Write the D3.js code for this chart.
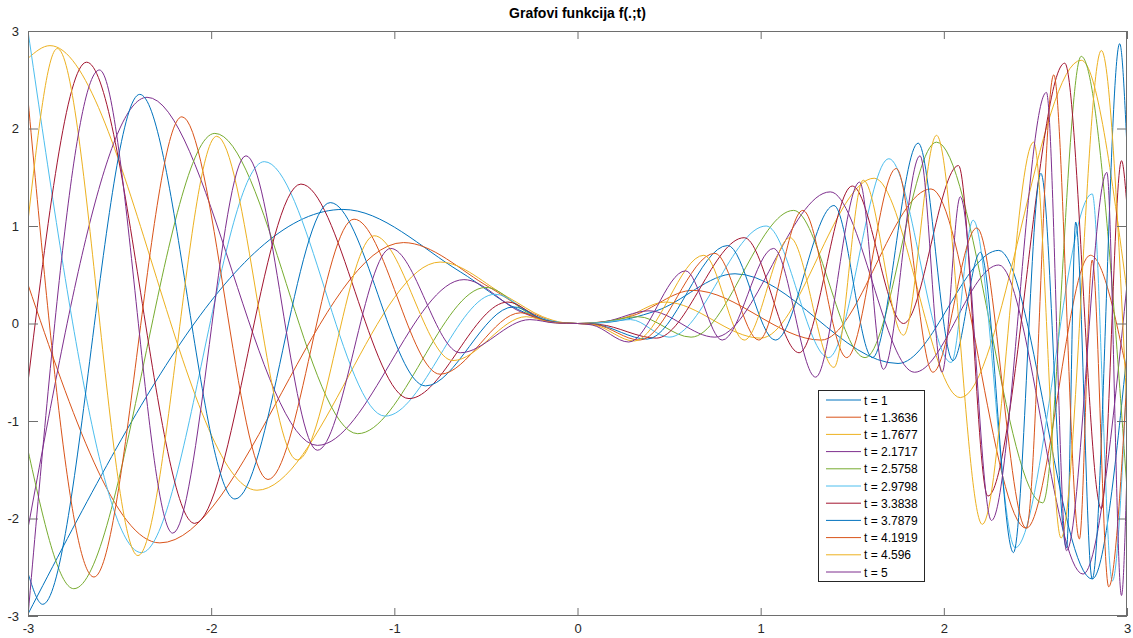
<!DOCTYPE html>
<html>
<head>
<meta charset="utf-8">
<script src="https://cdn.jsdelivr.net/npm/d3@7"></script>
<style>
body { margin: 0; background: #fff; }
text { font-family: "Liberation Sans", Arial, Helvetica, sans-serif; }
</style>
</head>
<body>
<div class="chart"></div>
<script>
// t values shown in the legend
var tLabels = ['1', '1.3636', '1.7677', '2.1717', '2.5758', '2.9798', '3.3838', '3.7879', '4.1919', '4.596', '5'];

// [x, f] points (extrema and a few points near 0)
var curve1 = [[-3,-2.98],[-1.28,1.17],[-0.64,0.53],[-0.32,0.14],[-0.12,0.01],[0,0],[0.15,0.01],[0.43,0.13],[0.86,0.51],[1.75,-0.41],[2.30,0.75],[2.81,-2.62],[3,-0.3]];
var curve2 = [[-3,0.4],[-2.28,-2.25],[-0.95,0.83],[-0.48,0.37],[-0.24,0.1],[-0.1,0.01],[0,0],[0.12,0.01],[0.3,0.08],[0.63,0.34],[1.33,-0.17],[1.93,1.38],[2.45,-2.1],[2.80,0.7],[3,-0.5]];
var curve3 = [[-3,2.72],[-2.88,2.85],[-1.75,-1.71],[-0.75,0.63],[-0.38,0.27],[-0.19,0.07],[-0.08,0.01],[0,0],[0.1,0.01],[0.24,0.05],[0.48,0.22],[1.0,-0.15],[1.62,1.49],[2.09,-0.76],[2.75,2.7],[3,0.33]];
var curve4 = [[-3,-2.1],[-2.35,2.32],[-1.42,-1.25],[-0.62,0.45],[-0.31,0.12],[-0.15,0.02],[0,0],[0.15,0.02],[0.39,0.13],[0.75,-0.14],[1.38,1.35],[1.84,-0.5],[2.30,0.6],[2.76,-2.57],[3,0.4]];
var curve5 = [[-3,-1.3],[-2.75,-2.72],[-1.98,1.95],[-1.2,-1.13],[-0.5,0.37],[-0.25,0.09],[-0.1,0.01],[0,0],[0.12,0.01],[0.33,0.07],[0.62,-0.14],[1.18,1.16],[1.57,-0.35],[1.96,1.86],[2.54,-1.84],[2.75,2.74],[3,-1.7]];
var curve6 = [[-3,3.0],[-2.38,-2.35],[-1.71,1.66],[-1.05,-0.95],[-0.45,0.3],[-0.22,0.07],[-0.09,0.01],[0,0],[0.1,0.005],[0.29,0.04],[0.5,-0.14],[1.03,1.0],[1.37,-0.35],[1.70,1.69],[2.04,-0.4],[2.16,1.06],[2.39,-2.3],[2.81,1.33],[2.92,-2.64],[3,-0.5]];
var curve7 = [[-3,-0.6],[-2.68,2.68],[-2.09,-2.05],[-1.51,1.43],[-0.92,-0.77],[-0.38,0.22],[-0.19,0.04],[-0.08,0.005],[0,0],[0.12,-0.01],[0.43,-0.15],[0.91,0.88],[1.21,-0.3],[1.50,1.41],[1.78,0.0],[2.08,1.62],[2.24,-1.77],[2.66,2.67],[2.86,-1.9],[2.97,1.67],[3,1.2]];
var curve8 = [[-3,-2.56],[-2.92,-2.88],[-2.39,2.35],[-1.87,-1.8],[-1.35,1.24],[-0.83,-0.64],[-0.35,0.17],[-0.17,0.03],[-0.07,0.004],[0,0],[0.1,-0.01],[0.38,-0.16],[0.82,0.80],[1.08,-0.17],[1.40,1.21],[1.61,-0.35],[1.86,1.85],[2.05,-0.38],[2.2,0.73],[2.38,-2.35],[2.53,1.54],[2.67,-2.3],[2.72,1.04],[2.81,-2.62],[2.96,2.87],[3,1.8]];
var curve9 = [[-3,2.3],[-2.64,-2.6],[-2.16,2.12],[-1.69,-1.6],[-1.22,1.07],[-0.75,-0.52],[-0.31,0.11],[-0.16,0.02],[-0.07,0.003],[0,0],[0.1,-0.012],[0.34,-0.17],[0.75,0.72],[0.99,-0.17],[1.23,1.16],[1.47,-0.35],[1.74,1.59],[1.94,-0.5],[2.18,0.98],[2.45,-2.1],[2.60,2.55],[2.74,-2.21],[2.81,0.65],[2.90,-2.70],[3,-0.56]];
var curve10 = [[-3,1.05],[-2.84,2.82],[-2.40,-2.38],[-1.97,1.92],[-1.53,-1.4],[-1.11,0.9],[-0.68,-0.38],[-0.28,0.07],[-0.14,0.01],[0,0],[0.09,-0.014],[0.31,-0.18],[0.69,0.70],[0.91,-0.17],[1.16,0.88],[1.40,-0.45],[1.56,1.47],[1.78,-0.12],[1.96,1.93],[2.21,-2.06],[2.49,1.86],[2.64,-2.2],[2.86,2.8],[3,-0.9]];
var curve11 = [[-3,-3],[-2.61,2.6],[-2.21,-2.15],[-1.81,1.72],[-1.42,-1.3],[-1.02,0.77],[-0.64,-0.3],[-0.26,0.04],[-0.12,0.005],[0,0],[0.08,-0.015],[0.28,-0.19],[0.59,0.54],[0.79,-0.17],[1.07,0.77],[1.30,-0.55],[1.54,1.45],[1.67,-0.47],[1.87,1.72],[1.99,-0.5],[2.09,1.3],[2.26,-2.02],[2.56,2.37],[2.67,-2.33],[2.89,1.55],[2.97,-2.79],[3,-1.5]];

var curves = [curve1, curve2, curve3, curve4, curve5, curve6, curve7, curve8, curve9, curve10, curve11];

var xTicks = [-3, -2, -1, 0, 1, 2, 3];
var yTicks = [-3, -2, -1, 0, 1, 2, 3];

// matlab default colour order
var colors = ['#0072BD', '#D95319', '#EDB120', '#7E2F8E', '#77AC30', '#4DBEEE', '#A2142F'];

var W = 1133, H = 638;
var box = { left: 28, right: 1127, top: 31, bottom: 616 };

var svg = d3.select('.chart')
    .append('svg')
    .attr('width', W)
    .attr('height', H);

var xScale = d3.scaleLinear().domain([-3, 3]).range([box.left, box.right]);
var yScale = d3.scaleLinear().domain([-3, 3]).range([box.bottom, box.top]);

svg.append('defs').append('clipPath').attr('id', 'plotclip')
    .append('rect')
    .attr('x', box.left).attr('y', box.top - 1)
    .attr('width', box.right - box.left).attr('height', box.bottom - box.top + 2);

var line = d3.line()
    .x(d => xScale(d[0]))
    .y(d => yScale(d[1]))
    .curve(d3.curveMonotoneX);

svg.append('g')
    .attr('clip-path', 'url(#plotclip)')
    .selectAll('path')
    .data(curves)
    .enter()
    .append('path')
    .attr('d', line)
    .attr('fill', 'none')
    .attr('stroke', (d, i) => colors[i % colors.length])
    .attr('stroke-width', 1);

// plain hyphen minus like the original
var fmt = d => String(d);

// axes, ticks pointing inwards on all four sides
function styleAxis(g) {
    g.select('.domain').remove();
    g.selectAll('.tick line').attr('stroke', '#6e6e6e');
    g.selectAll('.tick text').attr('fill', '#262626').style('font-size', '13px');
}

svg.append('g')
    .attr('transform', 'translate(0,' + box.bottom + ')')
    .call(d3.axisBottom(xScale).tickValues(xTicks).tickSize(-8).tickPadding(8).tickFormat(fmt))
    .call(styleAxis);

svg.append('g')
    .attr('transform', 'translate(0,' + box.top + ')')
    .call(d3.axisTop(xScale).tickValues(xTicks).tickSize(-8).tickFormat(''))
    .call(styleAxis);

svg.append('g')
    .attr('transform', 'translate(' + box.left + ',0)')
    .call(d3.axisLeft(yScale).tickValues(yTicks).tickSize(-10).tickPadding(9).tickFormat(fmt))
    .call(styleAxis);

svg.append('g')
    .attr('transform', 'translate(' + box.right + ',0)')
    .call(d3.axisRight(yScale).tickValues(yTicks).tickSize(-10).tickFormat(''))
    .call(styleAxis);

svg.append('rect')
    .attr('x', box.left + 0.5).attr('y', box.top + 0.5)
    .attr('width', box.right - box.left - 1).attr('height', box.bottom - box.top - 1)
    .attr('fill', 'none')
    .attr('stroke', '#6e6e6e')
    .attr('stroke-width', 1);

svg.append('text')
    .attr('x', (box.left + box.right) / 2)
    .attr('y', 18)
    .attr('text-anchor', 'middle')
    .style('font-size', '14px')
    .style('font-weight', 'bold')
    .attr('fill', '#000')
    .text('Grafovi funkcija f(.;t)');

// legend
var lg = { x: 818, y: 390, w: 106, h: 191, step: 17.2 };
var legend = svg.append('g');
legend.append('rect')
    .attr('x', lg.x + 0.5).attr('y', lg.y + 0.5)
    .attr('width', lg.w).attr('height', lg.h)
    .attr('fill', '#fff')
    .attr('stroke', '#262626')
    .attr('stroke-width', 1);

var items = legend.selectAll('g.item')
    .data(tLabels)
    .enter()
    .append('g')
    .attr('class', 'item')
    .attr('transform', (d, i) => 'translate(' + lg.x + ',' + (lg.y + 10 + i * lg.step) + ')');

items.append('line')
    .attr('x1', 8).attr('x2', 43)
    .attr('y1', 0).attr('y2', 0)
    .attr('stroke', (d, i) => colors[i % colors.length])
    .attr('stroke-width', 1);

items.append('text')
    .attr('x', 46)
    .attr('y', 4.5)
    .style('font-size', '12px')
    .attr('fill', '#000')
    .text(d => 't = ' + d);
</script>
</body>
</html>
